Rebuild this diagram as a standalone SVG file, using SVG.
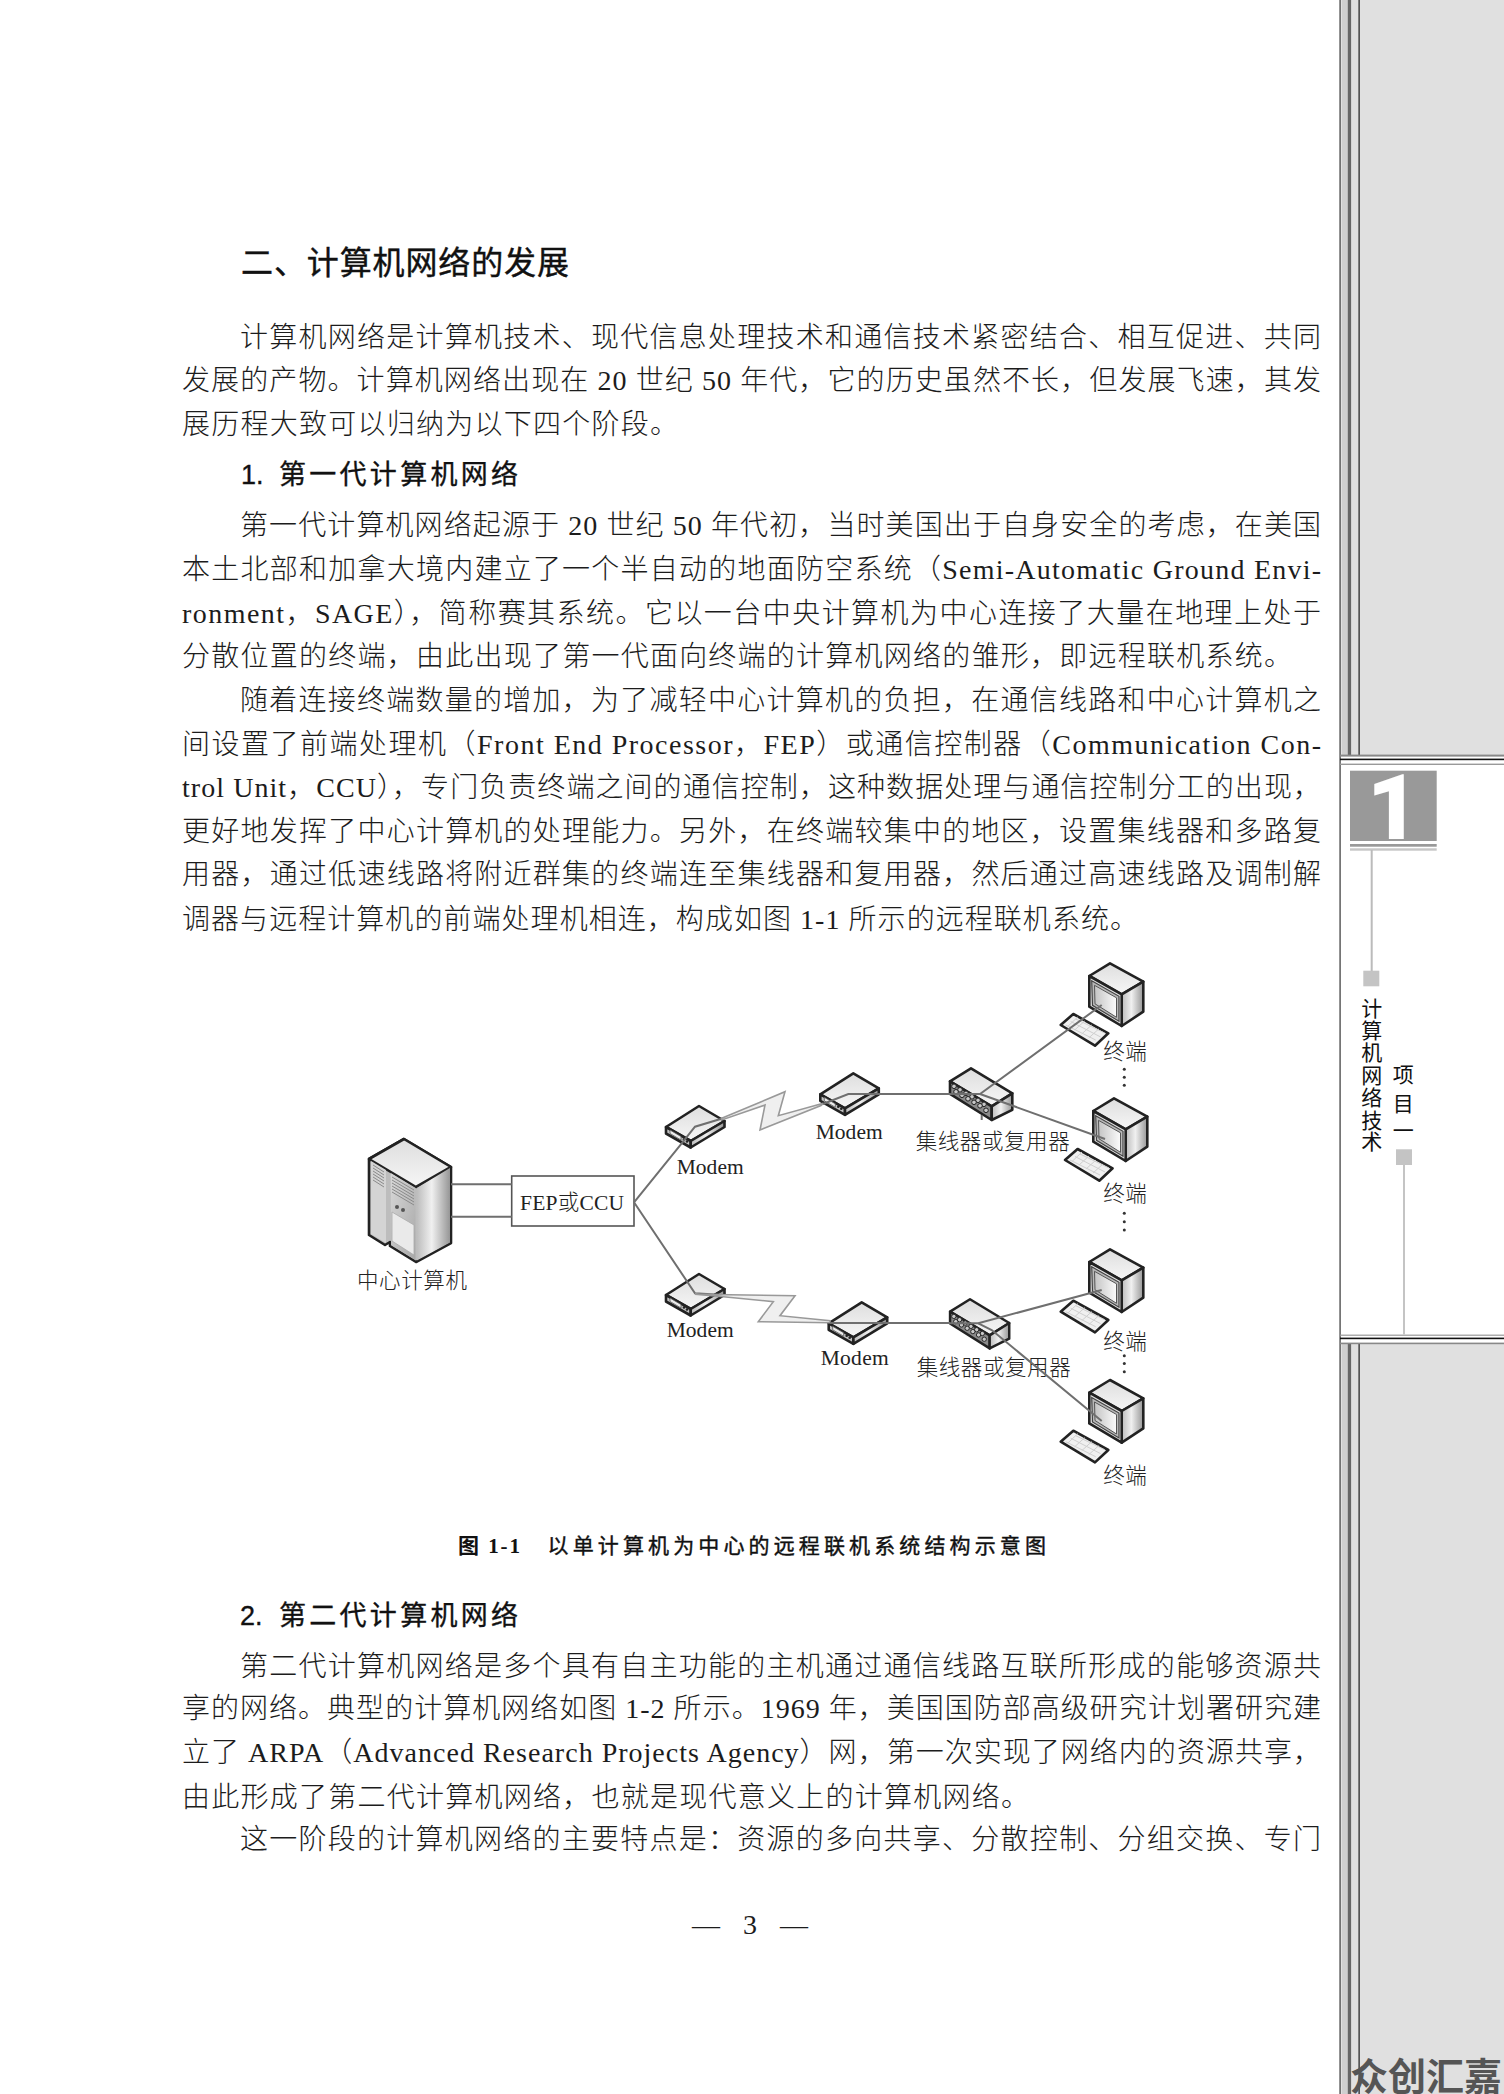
<svg xmlns="http://www.w3.org/2000/svg" width="1504" height="2094" viewBox="0 0 1504 2094">
<style>
text{fill:#1c1c1c}
.b{font-family:"Liberation Serif","Noto Sans CJK SC",serif;font-size:28px;font-weight:300}
.h{font-family:"Liberation Sans","Noto Sans CJK SC",sans-serif;font-size:27px;font-weight:400;fill:#111;stroke:#111;stroke-width:.35}
.c{font-family:"Liberation Serif","Noto Sans CJK SC",serif;font-size:21px;font-weight:700;fill:#111}
.l{font-family:"Liberation Serif","Noto Sans CJK SC",serif;font-size:21.5px;font-weight:300;fill:#222}
.v{font-family:"Noto Sans CJK SC",sans-serif;font-size:21px;fill:#111;text-anchor:middle}
.ol{stroke:#222;stroke-width:2.6;stroke-linejoin:round}
.cn{fill:none;stroke:#6f6f6f;stroke-width:2}
.bolt{fill:#efefef;stroke:#999;stroke-width:1.6;stroke-linejoin:miter}
.key{stroke:#cfcfcf;stroke-width:1;fill:none}
.dot{fill:#333}
</style>
<defs>
<linearGradient id="gr" x1="0" x2="1" y1="0" y2="0"><stop offset="0" stop-color="#bcbcbc"/><stop offset=".45" stop-color="#f0f0f0"/><stop offset="1" stop-color="#969696"/></linearGradient>
<linearGradient id="gt" x1="0" x2="0" y1="0" y2="1"><stop offset="0" stop-color="#dedede"/><stop offset="1" stop-color="#f6f6f6"/></linearGradient>
<linearGradient id="gf" x1="0" x2="1" y1="0" y2="1"><stop offset="0" stop-color="#d8d8d8"/><stop offset="1" stop-color="#a8a8a8"/></linearGradient>
<linearGradient id="gs" x1="0" x2="1" y1="0" y2="0"><stop offset="0" stop-color="#c4c4c4"/><stop offset="1" stop-color="#fbfbfb"/></linearGradient>
<g id="modem">
<path class="ol" fill="url(#gt)" d="M0,0 L25.5,15 L-8.3,35 L-33,21 Z"/>
<path class="ol" fill="#c2c2c2" d="M-33,21 L-8.3,35 L-8.3,41.5 L-33,27.5 Z"/>
<path class="ol" fill="url(#gr)" d="M-8.3,35 L25.5,15 L25.5,21 L-8.3,41.5 Z"/>
<path fill="#ededed" stroke="#555" stroke-width=".8" d="M-29,24 L-18,30.5 L-18,34 L-29,27.5 Z"/>
<circle cx="-15" cy="33.5" r="1.3" fill="#222"/><circle cx="-12" cy="35.5" r="1.3" fill="#222"/>
</g>
<g id="hub">
<path class="ol" fill="url(#gt)" d="M0,0 L41.3,25 L20.7,38 L-21,13 Z"/>
<path class="ol" fill="#8a8a8a" d="M-21,13 L20.7,38 L20.7,51.7 L-21,25.5 Z"/>
<path class="ol" fill="url(#gr)" d="M20.7,38 L41.3,25 L41.3,41.5 L20.7,51.7 Z"/>
<g fill="#c8c8c8" stroke="#222" stroke-width="1">
<circle cx="-17" cy="18" r="2.3"/><circle cx="-11" cy="21.5" r="2.3"/><circle cx="-5" cy="25" r="2.3"/><circle cx="1" cy="28.5" r="2.3"/><circle cx="7" cy="32" r="2.3"/><circle cx="13" cy="36" r="2.3"/>
<circle cx="-15" cy="23.5" r="2.3"/><circle cx="-9" cy="27" r="2.3"/><circle cx="-3" cy="30.5" r="2.3"/><circle cx="3" cy="34" r="2.3"/><circle cx="9" cy="37.5" r="2.3"/><circle cx="15" cy="42" r="2.3"/>
</g>
</g>
<g id="monitor">
<path class="ol" fill="url(#gt)" d="M0,0 L33.3,18.4 L11.7,31 L-20.7,12.7 Z"/>
<path class="ol" fill="url(#gr)" d="M11.7,31 L33.3,18.4 L33.3,48.4 L11.7,62.7 Z"/>
<path class="ol" fill="#e2e2e2" d="M-20.7,12.7 L11.7,31 L11.7,62.7 L-20.7,43.4 Z"/>
<path fill="#b8b8b8" stroke="#444" stroke-width="1.2" d="M-18.3,17.5 L9,33 L9,58 L-17.5,42 Z"/>
<path fill="url(#gs)" stroke="#555" stroke-width="1" d="M-15.5,22 L6.5,34.5 L6.5,54 L-15,40.5 Z"/>
</g>
<g id="keyboard">
<path class="ol" fill="#f0f0f0" d="M0,0 L12.6,-11 L47.6,8.3 L34.3,20.7 Z"/>
<path class="key" d="M10,-3.5 L40,12 M5,0 L35,15 M15,-6 L44,8 M17,-8 L7,1.5 M24,-4 L14,5 M31,0 L21,9 M38,4 L28,13"/>
</g>
</defs>
<rect width="1504" height="2094" fill="#ffffff"/>
<g id="sidebar">
<rect x="1340" y="0" width="164" height="755" fill="#e0e0e0"/>
<rect x="1340" y="1344" width="164" height="750" fill="#e0e0e0"/>
<rect x="1342" y="0" width="5" height="755" fill="#cfcfcf"/><rect x="1342" y="1344" width="5" height="750" fill="#cfcfcf"/>
<rect x="1347.7" y="0" width="3.4" height="755" fill="#666"/><rect x="1347.7" y="1344" width="3.4" height="750" fill="#666"/>
<rect x="1358.3" y="0" width="1.7" height="755" fill="#555"/><rect x="1358.3" y="1344" width="1.7" height="750" fill="#555"/>
<rect x="1339.3" y="0" width="1.6" height="2094" fill="#666"/>
<rect x="1340" y="754.6" width="164" height="2" fill="#888"/>
<rect x="1340" y="758.6" width="164" height="1.6" fill="#111"/>
<rect x="1340" y="763.6" width="164" height="1.4" fill="#999"/>
<rect x="1340" y="1334.6" width="164" height="1.2" fill="#999"/>
<rect x="1340" y="1337.6" width="164" height="1.6" fill="#111"/>
<rect x="1340" y="1342.6" width="164" height="1.6" fill="#888"/>
<rect x="1350" y="770.7" width="86.7" height="70.3" fill="#999"/>
<text x="1393" y="839" text-anchor="middle" font-family="Roboto,sans-serif" font-size="90" font-weight="900" style="fill:#fff">1</text>
<rect x="1350" y="844" width="86.7" height="2.7" fill="#999"/>
<rect x="1350" y="848.3" width="86.7" height="2.4" fill="#c6c6c6"/>
<rect x="1370.7" y="850" width="2" height="122" fill="#bbb"/>
<rect x="1363.3" y="970.7" width="16" height="15.6" fill="#c4c4c4"/>
<text class="v" x="1371.7" y="1015.5">计</text>
<text class="v" x="1371.7" y="1037.8">算</text>
<text class="v" x="1371.7" y="1060">机</text>
<text class="v" x="1371.7" y="1082.5">网</text>
<text class="v" x="1371.7" y="1105">络</text>
<text class="v" x="1371.7" y="1127.5">技</text>
<text class="v" x="1371.7" y="1149">术</text>
<text class="v" x="1403.3" y="1082">项</text>
<text class="v" x="1403.3" y="1110.5">目</text>
<text class="v" x="1403.3" y="1138">一</text>
<rect x="1396" y="1149.3" width="16" height="15.7" fill="#c4c4c4"/>
<rect x="1403" y="1165" width="2" height="169.6" fill="#c4c4c4"/>
<text x="1350" y="2090" font-family="'Noto Sans CJK SC',sans-serif" font-size="38" font-weight="700" style="fill:#555">众创汇嘉</text>
</g>
<g id="page-text">
<text x="241" y="274" font-family="'Noto Sans CJK SC',sans-serif" font-size="32" font-weight="400" textLength="328" lengthAdjust="spacing" style="fill:#111;stroke:#111;stroke-width:.4">二、计算机网络的发展</text>
<text class="b" x="240" y="346.5" textLength="1081" lengthAdjust="spacing">计算机网络是计算机技术、现代信息处理技术和通信技术紧密结合、相互促进、共同</text>
<text class="b" x="182" y="389.5" textLength="1139" lengthAdjust="spacing">发展的产物。计算机网络出现在 20 世纪 50 年代，它的历史虽然不长，但发展飞速，其发</text>
<text class="b" x="182" y="433.5" textLength="496" lengthAdjust="spacing">展历程大致可以归纳为以下四个阶段。</text>
<text class="h" x="241" y="484">1.</text>
<text class="h" x="279" y="484" textLength="239" lengthAdjust="spacing">第一代计算机网络</text>
<text class="b" x="240" y="535" textLength="1081" lengthAdjust="spacing">第一代计算机网络起源于 20 世纪 50 年代初，当时美国出于自身安全的考虑，在美国</text>
<text class="b" x="182" y="579" textLength="1139" lengthAdjust="spacing">本土北部和加拿大境内建立了一个半自动的地面防空系统（Semi-Automatic Ground Envi-</text>
<text class="b" x="182" y="623" textLength="1139" lengthAdjust="spacing">ronment，SAGE），简称赛其系统。它以一台中央计算机为中心连接了大量在地理上处于</text>
<text class="b" x="182" y="666" textLength="1110" lengthAdjust="spacing">分散位置的终端，由此出现了第一代面向终端的计算机网络的雏形，即远程联机系统。</text>
<text class="b" x="240" y="710" textLength="1081" lengthAdjust="spacing">随着连接终端数量的增加，为了减轻中心计算机的负担，在通信线路和中心计算机之</text>
<text class="b" x="182" y="754" textLength="1139" lengthAdjust="spacing">间设置了前端处理机（Front End Processor，FEP）或通信控制器（Communication Con-</text>
<text class="b" x="182" y="797" textLength="1139" lengthAdjust="spacing">trol Unit，CCU），专门负责终端之间的通信控制，这种数据处理与通信控制分工的出现，</text>
<text class="b" x="182" y="841" textLength="1139" lengthAdjust="spacing">更好地发挥了中心计算机的处理能力。另外，在终端较集中的地区，设置集线器和多路复</text>
<text class="b" x="182" y="884" textLength="1139" lengthAdjust="spacing">用器，通过低速线路将附近群集的终端连至集线器和复用器，然后通过高速线路及调制解</text>
<text class="b" x="182" y="929" textLength="956" lengthAdjust="spacing">调器与远程计算机的前端处理机相连，构成如图 1-1 所示的远程联机系统。</text>
<text class="c" x="458" y="1553" textLength="62" lengthAdjust="spacing">图 1-1</text>
<text class="c" x="547.5" y="1553" textLength="498.5" lengthAdjust="spacing" style="font-weight:400;stroke:#111;stroke-width:.4">以单计算机为中心的远程联机系统结构示意图</text>
<text class="h" x="240" y="1625">2.</text>
<text class="h" x="279" y="1625" textLength="239" lengthAdjust="spacing">第二代计算机网络</text>
<text class="b" x="240" y="1676" textLength="1081" lengthAdjust="spacing">第二代计算机网络是多个具有自主功能的主机通过通信线路互联所形成的能够资源共</text>
<text class="b" x="182" y="1718" textLength="1139" lengthAdjust="spacing">享的网络。典型的计算机网络如图 1-2 所示。1969 年，美国国防部高级研究计划署研究建</text>
<text class="b" x="182" y="1762" textLength="1139" lengthAdjust="spacing">立了 ARPA（Advanced Research Projects Agency）网，第一次实现了网络内的资源共享，</text>
<text class="b" x="182" y="1807" textLength="847" lengthAdjust="spacing">由此形成了第二代计算机网络，也就是现代意义上的计算机网络。</text>
<text class="b" x="240" y="1849" textLength="1081" lengthAdjust="spacing">这一阶段的计算机网络的主要特点是：资源的多向共享、分散控制、分组交换、专门</text>
<text x="692" y="1934" font-family="'Liberation Serif',serif" font-size="28" textLength="116" lengthAdjust="spacing">— 3 —</text>
</g>
<g id="nodes">
<g id="server">
<path class="ol" fill="#bdbdbd" d="M404,1139 L451,1167 L451,1243 L416,1262 L390,1246 L390,1242 L385,1245 L369,1235 L369,1159 Z"/>
<path class="ol" fill="url(#gt)" d="M404,1139 L451,1167 L416,1187 L369,1159 Z"/>
<path fill="url(#gr)" d="M416.8,1188 L450,1168 L450,1242.5 L416.8,1260.5 Z"/>
<path fill="#d4d4d4" d="M371,1161 L386,1170 L386,1243 L371,1234 Z"/>
<path fill="url(#gf)" d="M390.7,1173 L415.5,1188 L415.5,1260 L391,1245 Z"/>
<path fill="#eaeaea" stroke="#aaa" stroke-width=".8" d="M392,1212 L414,1225 L414,1255 L392,1241 Z"/>
<path stroke="#8a8a8a" stroke-width="1" fill="none" d="M373,1165 L384,1172 M373,1168 L384,1175 M373,1171 L384,1178 M373,1174 L384,1181 M373,1177 L384,1184 M373,1180 L384,1187 M392,1177 L414,1190 M392,1180 L414,1193 M392,1183 L414,1196 M392,1186 L414,1199 M392,1189 L414,1202 M392,1192 L414,1205"/>
<circle cx="397" cy="1207" r="2" fill="#555"/><circle cx="403" cy="1210" r="2" fill="#555"/>
<text class="l" x="357" y="1287.5" textLength="110" lengthAdjust="spacing">中心计算机</text>
</g>
<g id="fep">
<rect x="511.7" y="1176" width="122.3" height="50" fill="#fff" stroke="#555" stroke-width="1.6"/>
<text class="l" x="520" y="1210" textLength="104" lengthAdjust="spacing">FEP或CCU</text>
</g>
<g id="modem1"><use href="#modem" x="699" y="1106"/><text class="l" x="676.7" y="1174" textLength="67" lengthAdjust="spacing">Modem</text></g>
<g id="modem2"><use href="#modem" x="853.3" y="1073.3"/><text class="l" x="815.7" y="1138.5" textLength="67" lengthAdjust="spacing">Modem</text></g>
<g id="modem3"><use href="#modem" x="699" y="1274"/><text class="l" x="666.7" y="1337" textLength="67" lengthAdjust="spacing">Modem</text></g>
<g id="modem4"><use href="#modem" x="861.7" y="1302.3"/><text class="l" x="820.7" y="1365" textLength="68" lengthAdjust="spacing">Modem</text></g>
<g id="hub1"><use href="#hub" x="971" y="1068.3"/><text class="l" x="915.7" y="1149" textLength="154" lengthAdjust="spacing">集线器或复用器</text></g>
<g id="hub2"><use href="#hub" transform="translate(970,1299.3) scale(.95)"/><text class="l" x="916.7" y="1374.5" textLength="154" lengthAdjust="spacing">集线器或复用器</text></g>
<g id="terminal1"><use href="#monitor" x="1110" y="963.3"/><use href="#keyboard" x="1060.7" y="1025"/><text class="l" x="1103.3" y="1059" textLength="43.4" lengthAdjust="spacing">终端</text>
<circle class="dot" cx="1124.3" cy="1069.3" r="1.5"/><circle class="dot" cx="1124.3" cy="1077.3" r="1.5"/><circle class="dot" cx="1124.3" cy="1085.3" r="1.5"/></g>
<g id="terminal2"><use href="#monitor" x="1114" y="1098.3"/><use href="#keyboard" x="1065" y="1160"/><text class="l" x="1103.3" y="1200.5" textLength="43.4" lengthAdjust="spacing">终端</text>
<circle class="dot" cx="1124.3" cy="1213.3" r="1.5"/><circle class="dot" cx="1124.3" cy="1221.7" r="1.5"/><circle class="dot" cx="1124.3" cy="1230" r="1.5"/></g>
<g id="terminal3"><use href="#monitor" x="1110" y="1249.3"/><use href="#keyboard" x="1060.7" y="1311.7"/><text class="l" x="1103.3" y="1349" textLength="43.4" lengthAdjust="spacing">终端</text>
<circle class="dot" cx="1124.3" cy="1355.7" r="1.5"/><circle class="dot" cx="1124.3" cy="1363.5" r="1.5"/><circle class="dot" cx="1124.3" cy="1371.7" r="1.5"/></g>
<g id="terminal4"><use href="#monitor" x="1110" y="1380"/><use href="#keyboard" x="1060.7" y="1441.7"/><text class="l" x="1103.3" y="1482.5" textLength="43.4" lengthAdjust="spacing">终端</text></g>
</g>
<g id="connectors">
<path class="cn" d="M451,1184.3 H511.7 M451,1216.7 H511.7"/>
<path class="cn" d="M634,1202.3 L681.7,1143.3 L695,1126.7 L723,1118.3"/>
<path class="cn" d="M634,1202.3 L695,1293.3 L723,1295"/>
<path class="bolt" d="M721.7,1118.3 L785,1091.7 L778.3,1115.7 L823.3,1103.3 L821,1105.5 L760,1130 L765,1105 L721.7,1120 Z"/>
<path class="cn" d="M823,1104 L848.3,1094 H950"/>
<path class="bolt" d="M695,1294.3 L795,1295.7 L780,1315.7 L830,1320.7 L830,1322.7 L758.3,1321.7 L773.3,1301.7 L723.3,1296.7 Z"/>
<path class="cn" d="M830,1323 H950"/>
<path class="cn" d="M950,1094 H980 L1101.7,1005"/>
<path class="cn" d="M980,1094 L1105,1139"/>
<path class="cn" d="M981.7,1115 V1120"/>
<path class="cn" d="M950,1323.3 H978.3 L1101.7,1290"/>
<path class="cn" d="M978.3,1323.3 L991.7,1330 L1101.7,1421"/>
</g>
</svg>
